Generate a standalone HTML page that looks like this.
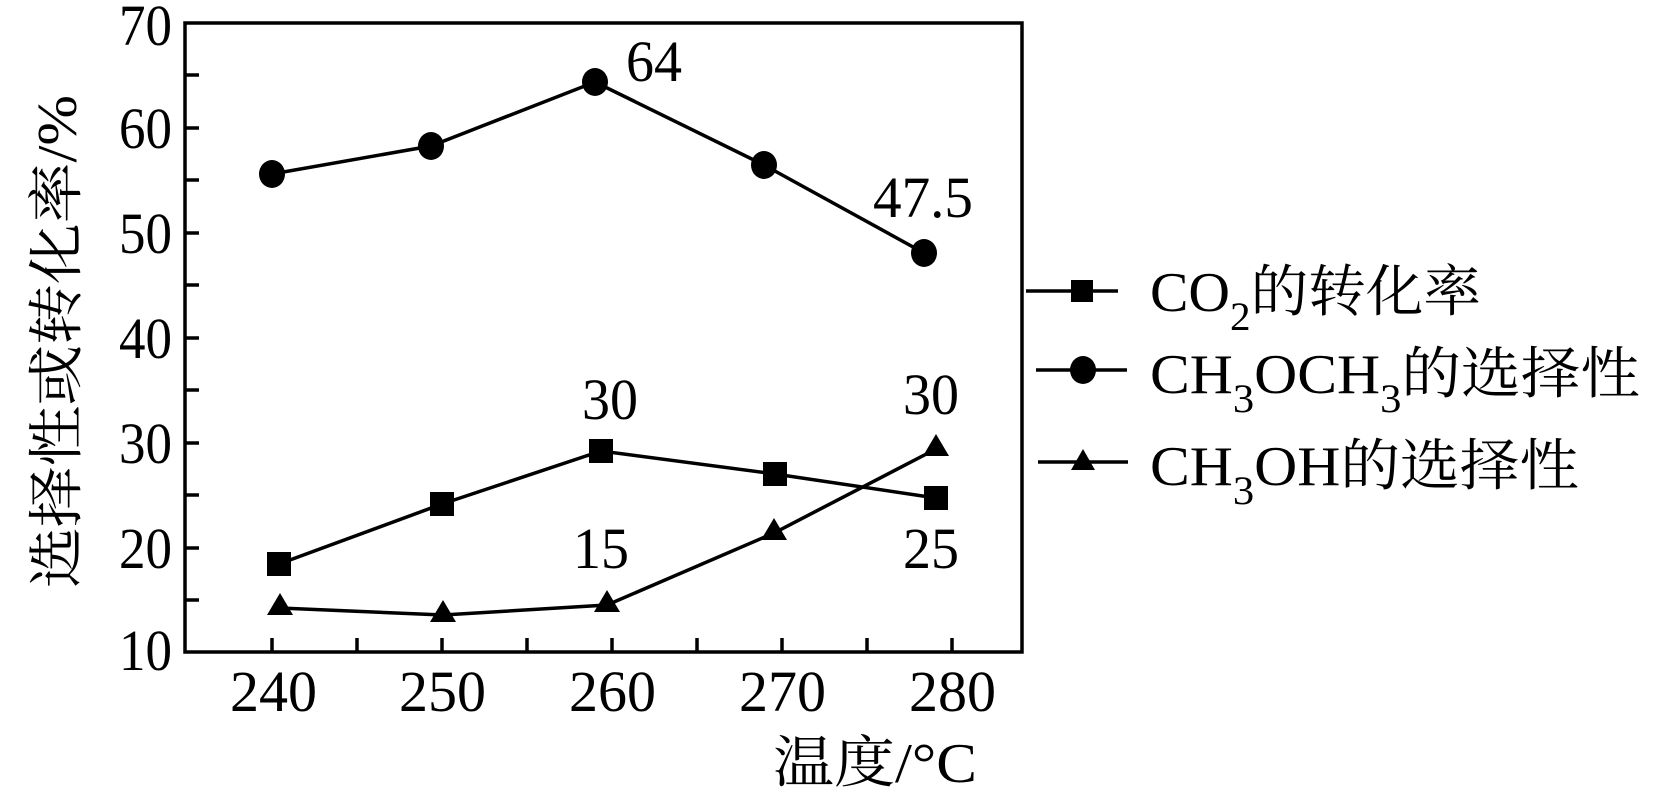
<!DOCTYPE html>
<html><head><meta charset="utf-8"><style>
html,body{margin:0;padding:0;background:#fff;}
svg{display:block;}
text{font-family:"Liberation Serif","Noto Serif CJK SC",serif;fill:#000;}
</style></head><body>
<svg width="1657" height="797" viewBox="0 0 1657 797" xmlns="http://www.w3.org/2000/svg">
<rect x="185" y="23" width="837" height="629" fill="none" stroke="#000" stroke-width="3.5"/>
<g stroke="#000" stroke-width="3.5">
<line x1="185" y1="75" x2="199" y2="75"/><line x1="185" y1="128" x2="199" y2="128"/>
<line x1="185" y1="180" x2="199" y2="180"/><line x1="185" y1="233" x2="199" y2="233"/>
<line x1="185" y1="285" x2="199" y2="285"/><line x1="185" y1="338" x2="199" y2="338"/>
<line x1="185" y1="390" x2="199" y2="390"/><line x1="185" y1="443" x2="199" y2="443"/>
<line x1="185" y1="495" x2="199" y2="495"/><line x1="185" y1="548" x2="199" y2="548"/>
<line x1="185" y1="600" x2="199" y2="600"/>
<line x1="272" y1="652" x2="272" y2="638"/><line x1="357" y1="652" x2="357" y2="638"/>
<line x1="442" y1="652" x2="442" y2="638"/><line x1="527" y1="652" x2="527" y2="638"/>
<line x1="612" y1="652" x2="612" y2="638"/><line x1="697" y1="652" x2="697" y2="638"/>
<line x1="782" y1="652" x2="782" y2="638"/><line x1="867" y1="652" x2="867" y2="638"/>
<line x1="952" y1="652" x2="952" y2="638"/>
</g>
<g font-size="58">
<text x="119" y="45" textLength="53" lengthAdjust="spacingAndGlyphs">70</text>
<text x="119" y="148" textLength="53" lengthAdjust="spacingAndGlyphs">60</text>
<text x="119" y="253" textLength="53" lengthAdjust="spacingAndGlyphs">50</text>
<text x="119" y="358" textLength="53" lengthAdjust="spacingAndGlyphs">40</text>
<text x="119" y="463" textLength="53" lengthAdjust="spacingAndGlyphs">30</text>
<text x="119" y="568" textLength="53" lengthAdjust="spacingAndGlyphs">20</text>
<text x="119" y="670" textLength="53" lengthAdjust="spacingAndGlyphs">10</text>
</g>
<g font-size="58">
<text x="230" y="711" textLength="87" lengthAdjust="spacingAndGlyphs">240</text>
<text x="399" y="711" textLength="87" lengthAdjust="spacingAndGlyphs">250</text>
<text x="569" y="711" textLength="87" lengthAdjust="spacingAndGlyphs">260</text>
<text x="739" y="711" textLength="87" lengthAdjust="spacingAndGlyphs">270</text>
<text x="909" y="711" textLength="87" lengthAdjust="spacingAndGlyphs">280</text>
</g>
<text x="773" y="782" font-size="56" textLength="204" lengthAdjust="spacingAndGlyphs">温度/°C</text>
<text transform="translate(76,588) rotate(-90)" font-size="56" textLength="493" lengthAdjust="spacingAndGlyphs">选择性或转化率/%</text>
<g fill="none" stroke="#000" stroke-width="3.5">
<polyline points="272,174 431,146 595,82 764,165 924,253"/>
<polyline points="279,564 442,504 601,451 775,474 936,498"/>
<polyline points="280,608 443,615 607,605 774,533 936,449"/>
</g>
<g fill="#000">
<ellipse cx="272" cy="174" rx="13" ry="14"/><ellipse cx="431" cy="146" rx="13" ry="14"/><ellipse cx="595" cy="82" rx="13" ry="14"/>
<ellipse cx="764" cy="165" rx="13" ry="14"/><ellipse cx="924" cy="253" rx="13" ry="14"/>
<rect x="267" y="552" width="24" height="24"/><rect x="430" y="492" width="24" height="24"/>
<rect x="589" y="439" width="24" height="24"/><rect x="763" y="462" width="24" height="24"/>
<rect x="924" y="486" width="24" height="24"/>
<polygon points="280,593 267,615 293,615"/><polygon points="443,600 430,622 456,622"/>
<polygon points="607,590 594,612 620,612"/><polygon points="774,518 761,540 787,540"/>
<polygon points="936,434 923,456 949,456"/>
</g>
<g font-size="58">
<text x="626" y="81" textLength="56" lengthAdjust="spacingAndGlyphs">64</text>
<text x="873" y="217" textLength="100" lengthAdjust="spacingAndGlyphs">47.5</text>
<text x="582" y="419" textLength="56" lengthAdjust="spacingAndGlyphs">30</text>
<text x="903" y="414" textLength="56" lengthAdjust="spacingAndGlyphs">30</text>
<text x="573" y="568" textLength="56" lengthAdjust="spacingAndGlyphs">15</text>
<text x="903" y="568" textLength="56" lengthAdjust="spacingAndGlyphs">25</text>
</g>
<g stroke="#000" stroke-width="3.5">
<line x1="1026" y1="291" x2="1118" y2="291"/>
<line x1="1036" y1="370" x2="1127" y2="370"/>
<line x1="1038" y1="462" x2="1128" y2="462"/>
</g>
<g fill="#000">
<rect x="1071" y="280" width="22" height="22"/>
<ellipse cx="1083" cy="370" rx="13" ry="14"/>
<polygon points="1083,449 1071,470 1095,470"/>
</g>
<g font-size="56">
<text x="1150" y="311" textLength="331" lengthAdjust="spacingAndGlyphs">CO<tspan font-size="40" dy="19">2</tspan><tspan dy="-19">的转化率</tspan></text>
<text x="1150" y="393" textLength="490" lengthAdjust="spacingAndGlyphs">CH<tspan font-size="40" dy="19">3</tspan><tspan dy="-19">OCH</tspan><tspan font-size="40" dy="19">3</tspan><tspan dy="-19">的选择性</tspan></text>
<text x="1150" y="485" textLength="429" lengthAdjust="spacingAndGlyphs">CH<tspan font-size="40" dy="19">3</tspan><tspan dy="-19">OH的选择性</tspan></text>
</g>
</svg>
</body></html>
